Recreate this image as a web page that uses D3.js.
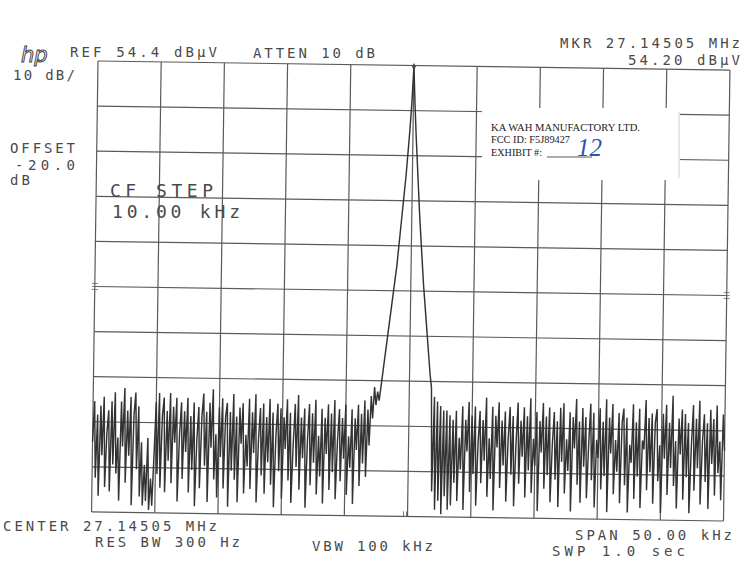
<!DOCTYPE html>
<html>
<head>
<meta charset="utf-8">
<script src="https://cdn.jsdelivr.net/npm/d3@7"></script>
<style>
  body { margin: 0; background: #fff; }
  .plotter { font-family: "DejaVu Sans Mono", monospace; fill: #4a4a4a; }
  .sticker { font-family: "Liberation Serif", serif; fill: #222; }
</style>
</head>
<body>
<svg id="svgSpectrum" width="750" height="568"></svg>
<script>
/*
  Spectrum analyser screen, 27.14505 MHz carrier, 50 kHz span.
  Trace values are in dBuV, one per sweep point (401 points).
*/

var CENTER_MHZ = 27.14505;
var SPAN_KHZ = 50;
var REF_LEVEL = 54.4;
var DB_PER_DIV = 10;
var DIVS = 10;

// noise floor left of the carrier (points 0..180)
var noiseLeft = [
  -30,-21,-38,-24,-42,-22,-33,-20,-40,-28,
  -23,-41,-21,-35,-19,-37,-29,-43,-21,-31,
  -18,-39,-23,-33,-20,-44,-24,-19,-36,-22,
  -42,-30,-44,-35,-43,-29,-45,-38,-44,-33,
  -21,-37,-19,-40,-24,-20,-41,-23,-34,-19,
  -39,-22,-30,-20,-43,-28,-21,-38,-23,-32,
  -20,-41,-24,-36,-21,-44,-29,-22,-40,-24,
  -19,-35,-23,-43,-21,-31,-18,-38,-28,-42,
  -22,-33,-20,-40,-24,-21,-44,-23,-36,-19,
  -38,-24,-43,-22,-30,-21,-41,-28,-35,-20,
  -40,-23,-32,-19,-43,-29,-22,-37,-21,-41,
  -24,-34,-20,-39,-23,-44,-28,-21,-36,-22,
  -42,-24,-31,-20,-38,-23,-43,-30,-21,-35,
  -19,-40,-24,-33,-22,-44,-29,-21,-39,-23,
  -34,-20,-41,-28,-37,-22,-43,-24,-32,-21,
  -40,-23,-36,-20,-42,-29,-22,-38,-24,-33,
  -21,-41,-28,-35,-22,-43,-24,-31,-21,-39,
  -23,-34,-20,-37,-22,-30,-19,-24,-17,-21,-18
];

// carrier skirts and peak (points 181..213, peak at 200)
var carrier = [
  -20,-17,-14,-11,-8,-5,-2,1,4,7,10,14,18,22,26,30,35,40,46,
  54.2,
  46,39,33,27,21,16,11,6,2,-2,-6,-10,-14
];

// noise floor right of the carrier (points 214..400)
var noiseRight = [
  -17,-40,-19,-44,-20,-42,-21,-45,-22,-41,-22,-44,-23,
  -43,-24,-38,-22,-42,-28,-35,-21,-44,-24,
  -31,-20,-40,-23,-36,-21,-43,-29,-22,-38,
  -24,-33,-19,-41,-28,-37,-21,-44,-23,-30,
  -20,-39,-24,-34,-22,-42,-28,-21,-36,-23,
  -43,-29,-20,-38,-24,-32,-21,-41,-23,-35,
  -19,-40,-28,-34,-22,-44,-24,-31,-20,-39,
  -23,-36,-21,-42,-29,-22,-37,-24,-43,-21,
  -33,-20,-40,-28,-35,-22,-44,-23,-30,-19,
  -38,-24,-42,-21,-34,-23,-41,-29,-20,-37,
  -22,-43,-28,-32,-21,-39,-24,-36,-19,-44,
  -23,-31,-20,-40,-28,-35,-22,-42,-24,-21,
  -38,-23,-44,-29,-33,-20,-41,-24,-36,-21,
  -43,-28,-30,-19,-39,-23,-35,-22,-42,-24,
  -21,-37,-29,-44,-22,-32,-20,-40,-24,-34,
  -18,-38,-28,-43,-23,-31,-21,-41,-22,-36,
  -24,-44,-29,-20,-39,-23,-34,-19,-42,-28,
  -22,-37,-24,-43,-21,-33,-23,-40,-20,-35,
  -28,-41,-22,-30
];

// annotation texts: [text, x, baseline y, width, size]
var headerTexts = [
  ["REF 54.4 dB\u00B5V", 70, 57, 147, 14],
  ["ATTEN 10 dB", 253, 58, 122, 14],
  ["MKR 27.14505 MHz", 560, 48, 180, 14],
  ["54.20 dB\u00B5V", 628, 65, 112, 14],
  ["10 dB/", 13, 80, 62, 14],
  ["OFFSET", 10, 153, 65, 14],
  ["-20.0", 15, 170, 60, 14],
  ["dB", 10, 185, 20, 14],
  ["CF STEP", 110, 197, 103, 18],
  ["10.00 kHz", 112, 218, 128, 18],
  ["CENTER 27.14505 MHz", 3, 531, 214, 14],
  ["RES BW 300 Hz", 95, 547, 145, 14],
  ["VBW 100 kHz", 312, 551, 121, 14],
  ["SPAN 50.00 kHz", 575, 540, 157, 14],
  ["SWP 1.0 sec", 552, 556, 133, 14]
];

var stickerLines = [
  ["KA WAH MANUFACTORY LTD.", 491, 131, 149],
  ["FCC ID: F5J89427", 491, 143, 79],
  ["EXHIBIT #:", 491, 156, 51]
];

function makeSpectrum() {
  var svg = d3.select("#svgSpectrum");
  var origin = {x: 98, y: 61};
  var width = 632;
  var height = 451;

  // the scan is tilted a little, so the screen is rotated
  var gScreen = svg.append("g")
    .attr("transform", "translate(" + origin.x + "," + origin.y + ") rotate(0.82)");

  var trace = noiseLeft.concat(carrier, noiseRight);
  var nPts = trace.length;
  var stepKhz = SPAN_KHZ / (nPts - 1);

  var x = d3.scaleLinear()
    .domain([CENTER_MHZ - SPAN_KHZ / 2000, CENTER_MHZ + SPAN_KHZ / 2000])
    .range([0, width]);
  var y = d3.scaleLinear()
    .domain([REF_LEVEL - DB_PER_DIV * DIVS, REF_LEVEL])
    .range([height, 0])
    .clamp(true);

  // graticule
  var xTicks = d3.range(DIVS + 1).map(function(i) {
    return x.domain()[0] + i * SPAN_KHZ / 1000 / DIVS; });
  var yTicks = d3.range(DIVS + 1).map(function(i) {
    return REF_LEVEL - i * DB_PER_DIV; });

  gScreen.selectAll(".vgrid").data(xTicks).enter().append("line")
    .attr("class", "vgrid")
    .attr("x1", function(d) { return x(d); })
    .attr("x2", function(d) { return x(d); })
    .attr("y1", 0).attr("y2", height)
    .attr("stroke", "#5a5a5a").attr("stroke-width", 1.2);

  gScreen.selectAll(".hgrid").data(yTicks).enter().append("line")
    .attr("class", "hgrid")
    .attr("y1", function(d) { return y(d); })
    .attr("y2", function(d) { return y(d); })
    .attr("x1", 0).attr("x2", width)
    .attr("stroke", "#5a5a5a").attr("stroke-width", 1.2);

  // reference marks on the screen edges and bottom centre
  [-1, 1].forEach(function(side) {
    [-3, 0, 3].forEach(function(dy) {
      var xe = side < 0 ? 0 : width;
      gScreen.append("line")
        .attr("x1", xe - 3).attr("x2", xe + 3)
        .attr("y1", height / 2 + dy).attr("y2", height / 2 + dy)
        .attr("stroke", "#666").attr("stroke-width", 0.8);
    });
  });
  [-4, -1].forEach(function(dx) {
    gScreen.append("line")
      .attr("x1", width / 2 + dx).attr("x2", width / 2 + dx)
      .attr("y1", height - 5).attr("y2", height)
      .attr("stroke", "#666").attr("stroke-width", 0.9);
  });

  // trace
  var line = d3.line()
    .x(function(d, i) { return x(CENTER_MHZ + (i - (nPts - 1) / 2) * stepKhz / 1000); })
    .y(function(d) { return y(d); });

  gScreen.append("path")
    .attr("fill", "none")
    .attr("stroke", "#333")
    .attr("stroke-width", 1.45)
    .attr("stroke-linejoin", "miter")
    .attr("d", line(trace));

  // marker on the peak
  var iPeak = d3.maxIndex(trace);
  gScreen.append("path")
    .attr("transform", "translate(" + x(CENTER_MHZ + (iPeak - (nPts - 1) / 2) * stepKhz / 1000) +
      "," + y(trace[iPeak]) + ")")
    .attr("d", d3.symbol().type(d3.symbolDiamond).size(14)())
    .attr("fill", "#444");

  // plotter annotations
  svg.selectAll(".hdr").data(headerTexts).enter().append("text")
    .attr("class", "plotter hdr")
    .attr("x", function(d) { return d[1]; })
    .attr("y", function(d) { return d[2]; })
    .attr("textLength", function(d) { return d[3]; })
    .attr("lengthAdjust", "spacing")
    .style("font-size", function(d) { return d[4] + "px"; })
    .text(function(d) { return d[0]; });

  svg.append("text")
    .attr("x", 21).attr("y", 62)
    .style("font-family", "'DejaVu Sans', sans-serif")
    .style("font-style", "italic")
    .style("font-size", "21px")
    .attr("fill", "none")
    .attr("stroke", "#444")
    .attr("stroke-width", 1)
    .text("hp");

  // paper label stuck on the screen
  svg.append("rect")
    .attr("x", 482).attr("y", 108)
    .attr("width", 197).attr("height", 72)
    .attr("fill", "#fff");
  svg.append("line")
    .attr("x1", 679).attr("x2", 679).attr("y1", 112).attr("y2", 178)
    .attr("stroke", "#e6e6e6").attr("stroke-width", 2);

  svg.selectAll(".stk").data(stickerLines).enter().append("text")
    .attr("class", "sticker stk")
    .attr("x", function(d) { return d[1]; })
    .attr("y", function(d) { return d[2]; })
    .attr("textLength", function(d) { return d[3]; })
    .attr("lengthAdjust", "spacingAndGlyphs")
    .style("font-size", "11px")
    .text(function(d) { return d[0]; });

  svg.append("line")
    .attr("x1", 547).attr("x2", 592).attr("y1", 157).attr("y2", 157)
    .attr("stroke", "#333").attr("stroke-width", 0.8);

  svg.append("text")
    .attr("x", 577).attr("y", 156)
    .style("font-family", "'Liberation Serif', serif")
    .style("font-style", "italic")
    .style("font-size", "25px")
    .attr("fill", "#2d52b8")
    .text("12");
}

makeSpectrum();
</script>
</body>
</html>
